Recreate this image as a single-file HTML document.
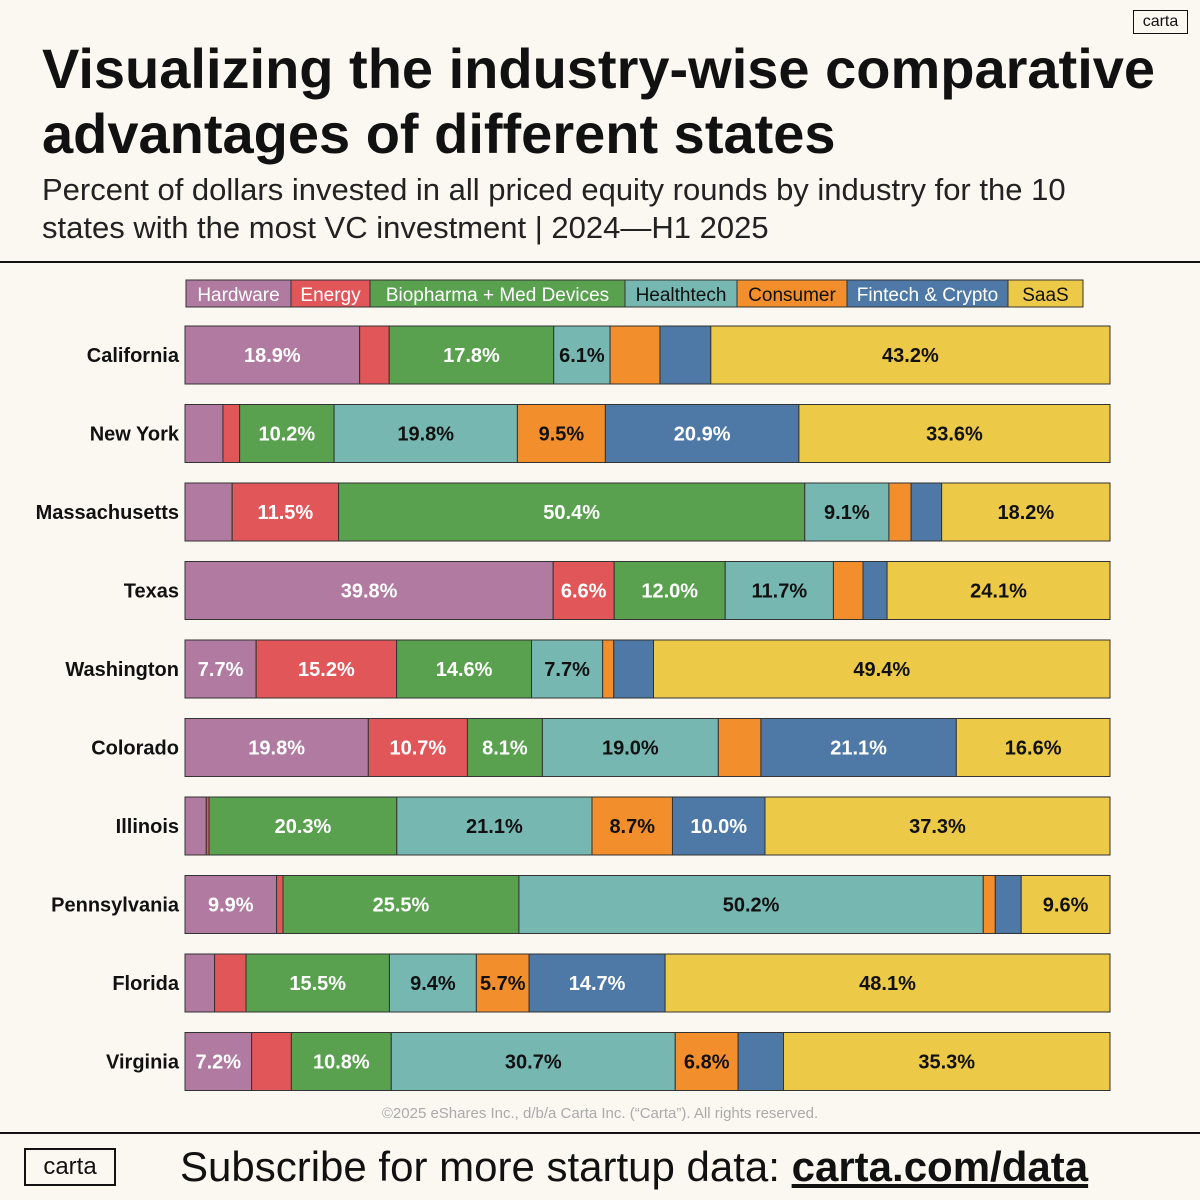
<!DOCTYPE html>
<html><head><meta charset="utf-8"><style>
body{margin:0;width:1200px;height:1200px;background:#fbf8f2;font-family:"Liberation Sans",sans-serif;color:#111;position:relative;overflow:hidden}
.abs{position:absolute}
</style></head><body>
<div class="abs" style="left:1133px;top:10px;width:53px;height:22px;border:1.5px solid #111;font-size:16px;text-align:center;line-height:22px">carta</div>
<div class="abs" style="left:42px;top:36px;font-size:56px;font-weight:bold;line-height:65px;white-space:nowrap">Visualizing the industry-wise comparative<br>advantages of different states</div>
<div class="abs" style="left:42px;top:171px;font-size:31px;line-height:38px;color:#222;white-space:nowrap">Percent of dollars invested in all priced equity rounds by industry for the 10<br>states with the most VC investment | 2024—H1 2025</div>
<div class="abs" style="left:0;top:261px;width:1200px;height:2px;background:#111"></div>
<div class="abs" style="left:0;top:1132px;width:1200px;height:2px;background:#111"></div>
<div class="abs" style="left:0;width:1200px;top:1105px;text-align:center;font-size:15px;color:#aaa">©2025 eShares Inc., d/b/a Carta Inc. (“Carta”). All rights reserved.</div>
<div class="abs" style="left:24px;top:1148px;width:88px;height:34px;border:2px solid #111;font-size:24px;text-align:center;line-height:34px">carta</div>
<div class="abs" style="left:180px;top:1143px;font-size:42px;line-height:48px;white-space:nowrap">Subscribe for more startup data: <a style="font-weight:bold;color:#111;text-decoration:underline">carta.com/data</a></div>
<svg class="abs" style="left:0;top:0" width="1200" height="1200" id="chart"></svg>
<script>
const states=["California","New York","Massachusetts","Texas","Washington","Colorado","Illinois","Pennsylvania","Florida","Virginia"];
const industries=["Hardware","Energy","Biopharma + Med Devices","Healthtech","Consumer","Fintech & Crypto","SaaS"];
const colors=["#b07aa1","#e15759","#59a14f","#76b7b2","#f28e2b","#4e79a7","#edc948"];
const textColors=["#fff","#fff","#fff","#111","#111","#fff","#111"];
const hardware=[18.9,4.1,5.1,39.8,7.7,19.8,2.3,9.9,3.2,7.2];
const energy=[3.2,1.8,11.5,6.6,15.2,10.7,0.3,0.7,3.4,4.3];
const biopharma=[17.8,10.2,50.4,12.0,14.6,8.1,20.3,25.5,15.5,10.8];
const healthtech=[6.1,19.8,9.1,11.7,7.7,19.0,21.1,50.2,9.4,30.7];
const consumer=[5.4,9.5,2.4,3.2,1.2,4.6,8.7,1.3,5.7,6.8];
const fintech=[5.5,20.9,3.3,2.6,4.3,21.1,10.0,2.8,14.7,4.9];
const saas=[43.2,33.6,18.2,24.1,49.4,16.6,37.3,9.6,48.1,35.3];
const series=[hardware,energy,biopharma,healthtech,consumer,fintech,saas];
const legendWidths=[105,79,255,112,110,161,75];
const svg=document.getElementById('chart');const NS="http://www.w3.org/2000/svg";
const x0=185,W=925,y0=326,step=78.5,bh=58;
function mk(t,a){const e=document.createElementNS(NS,t);for(const k in a)e.setAttribute(k,a[k]);svg.appendChild(e);return e;}
let lx=186;
industries.forEach((n,i)=>{
 const r=mk('rect',{x:lx,y:280,width:legendWidths[i],height:27,fill:colors[i],stroke:'#333','stroke-width':1});
 
 
 const t=mk('text',{x:lx+legendWidths[i]/2,y:301,'text-anchor':'middle','font-size':19,fill:textColors[i],'font-family':'Liberation Sans, sans-serif'});
 t.textContent=n;
 
 
 lx+=legendWidths[i];
});
states.forEach((s,r)=>{
 const y=y0+r*step;
 const total=series.reduce((a,arr)=>a+arr[r],0);
 const xs=v=>v/total*W;
 const lab=mk('text',{x:179,y:y+bh/2+7,'text-anchor':'end','font-size':20,'font-weight':'bold',fill:'#111','font-family':'Liberation Sans, sans-serif'});
 lab.textContent=s;
 
 
 let cx=x0;
 series.forEach((arr,i)=>{
  const w=xs(arr[r]);
  const rect=mk('rect',{x:cx,y:y,width:w,height:bh,fill:colors[i],stroke:'#333','stroke-width':1});
  
  
  if(arr[r]>=5.6){
   const t=mk('text',{x:cx+w/2,y:y+bh/2+7,'text-anchor':'middle','font-size':20,'font-weight':'bold',fill:textColors[i],'font-family':'Liberation Sans, sans-serif'});
   t.textContent=arr[r].toFixed(1)+'%';
   
   
  }
  cx+=w;
 });
});
</script>
</body></html>
